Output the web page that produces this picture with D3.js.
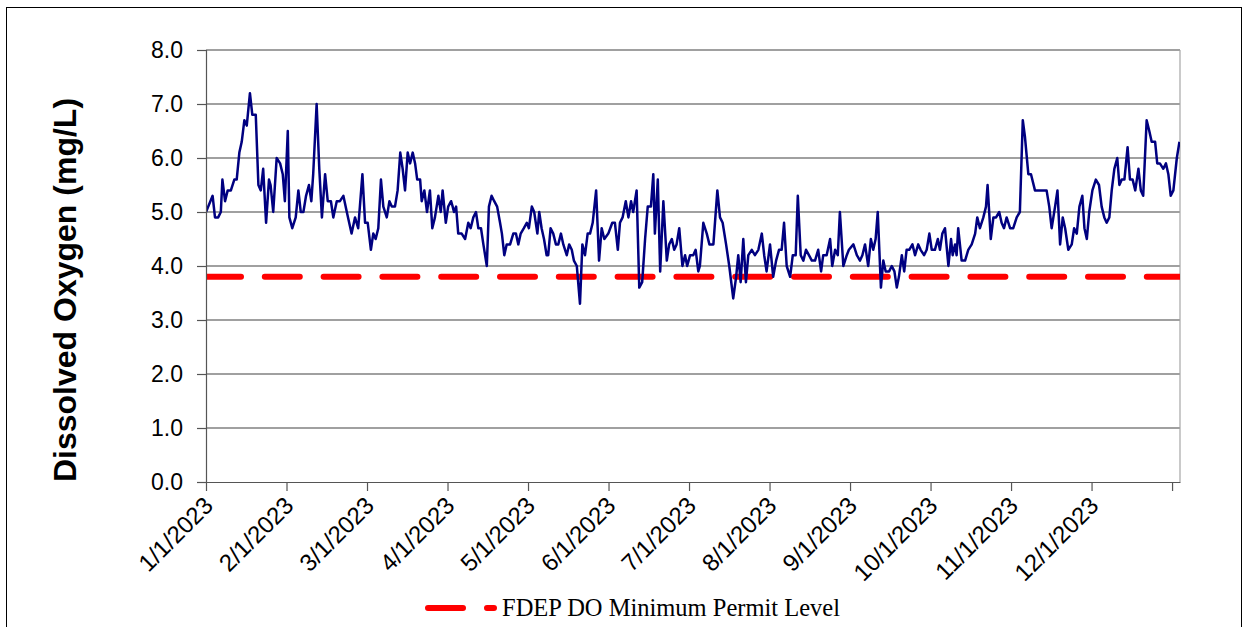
<!DOCTYPE html>
<html>
<head>
<meta charset="utf-8">
<script src="https://cdnjs.cloudflare.com/ajax/libs/d3/7.8.5/d3.min.js"></script>
<style>
    body { margin: 0; background: #fff; }
    text { font-family: Arial, "Liberation Sans", sans-serif; }
</style>
</head>
<body>
<svg id="chart" width="1249" height="627"></svg>
<script>

// x axis labels (one per month)
var monthLabels = ["1/1/2023", "2/1/2023", "3/1/2023", "4/1/2023", "5/1/2023", "6/1/2023",
    "7/1/2023", "8/1/2023", "9/1/2023", "10/1/2023", "11/1/2023", "12/1/2023"];

// y axis ticks
var yTicks = [0, 1, 2, 3, 4, 5, 6, 7, 8];

// permit level line
var permitLevel = 3.8;
var legendLabel = "FDEP DO Minimum Permit Level";

// day offset from 1/1/2023 of each reading
var obsDay = [0, 2.5, 3.4, 4.6, 5.6, 6.2, 7.2, 8.2, 9.4, 10.7, 11.6, 12.6, 13.5, 14.5, 15.4, 16.6, 17.5, 18.8, 19.8, 20.7,
    21.6, 22.7, 23.8, 24.4, 25.4, 26.7, 28.0, 29.0, 29.8, 30.9, 31.5, 32.6, 33.9, 34.9, 35.8, 36.8, 37.8, 38.9, 39.8, 40.5,
    41.8, 42.8, 43.8, 45.0, 46.0, 47.2, 48.1, 49.4, 50.6, 51.9, 53.2, 55.0, 56.3, 57.5, 59.1, 60.1, 61.1, 62.3, 63.2, 64.1,
    65.1, 66.1, 67.0, 68.3, 69.3, 70.2, 71.4, 72.4, 73.4, 74.3, 75.2, 76.2, 77.1, 78.1, 79.0, 79.8, 80.9, 81.5, 82.5, 83.5,
    84.6, 85.5, 86.5, 87.8, 88.7, 89.4, 90.6, 91.5, 92.6, 93.2, 93.7, 94.5, 95.3, 96.6, 97.9, 99.1, 100.0, 101.0, 102.0, 102.9,
    103.9, 104.8, 106.1, 106.9, 107.9, 108.9, 110.0, 111.1, 111.8, 112.7, 113.6, 114.9, 116.1, 117.1, 118.0, 118.9, 120.1, 121.2, 122.0, 123.1,
    124.0, 125.2, 125.9, 126.8, 127.7, 128.7, 129.3, 130.2, 131.2, 132.2, 133.1, 134.1, 135.0, 136.3, 137.2, 138.2, 139.0, 140.1, 141.3, 142.2,
    143.2, 144.2, 145.1, 146.1, 147.4, 148.5, 149.5, 150.5, 152.0, 153.5, 154.5, 155.6, 156.4, 157.4, 158.6, 159.6, 160.6, 161.4, 162.7, 163.7,
    164.8, 165.9, 166.9, 168.1, 169.0, 169.6, 170.7, 171.6, 172.8, 174.1, 175.0, 176.0, 176.9, 177.8, 178.8, 180.0, 181.0, 181.8, 182.9, 184.1,
    185.0, 186.0, 186.6, 187.9, 189.2, 190.2, 191.7, 193.2, 194.2, 195.2, 196.5, 197.7, 199.2, 200.3, 201.1, 202.0, 203.0, 204.0, 204.9, 206.2,
    207.4, 208.7, 210.0, 210.9, 211.8, 213.1, 214.3, 215.4, 216.5, 217.5, 218.4, 219.4, 220.7, 221.7, 222.8, 223.6, 224.7, 225.7, 226.7, 227.8,
    228.9, 230.1, 231.3, 232.4, 233.2, 234.5, 235.8, 236.6, 237.7, 238.7, 239.5, 240.8, 242.1, 242.9, 244.6, 245.9, 247.1, 248.0, 249.0, 250.2,
    251.2, 252.1, 253.0, 253.8, 255.0, 255.9, 256.8, 258.1, 259.1, 260.1, 261.0, 261.8, 262.9, 263.8, 264.7, 265.7, 266.9, 267.9, 269.1, 270.0,
    271.3, 272.3, 273.3, 274.2, 275.4, 276.5, 277.3, 278.2, 279.2, 280.5, 281.5, 282.1, 283.0, 283.6, 284.2, 285.5, 286.8, 288.0, 289.3, 290.6,
    291.4, 292.4, 293.7, 294.7, 295.3, 296.5, 297.5, 298.5, 299.7, 300.6, 301.5, 302.5, 303.8, 305.0, 306.3, 307.5, 308.6, 309.4, 310.7, 311.7,
    313.2, 314.5, 316.4, 317.6, 318.6, 319.5, 320.8, 321.7, 322.7, 323.7, 324.6, 325.8, 327.1, 328.0, 329.0, 330.0, 331.1, 331.9, 332.8, 333.7,
    334.9, 336.2, 337.4, 338.4, 339.4, 340.3, 341.3, 342.2, 343.2, 344.3, 345.1, 346.0, 347.0, 348.2, 349.1, 350.1, 351.1, 352.3, 353.2, 354.1,
    355.4, 356.4, 357.3, 358.6, 359.4, 360.4, 361.7, 362.7, 363.6, 364.5, 365.5, 366.8, 367.8];

// dissolved oxygen reading (mg/L)
var obsDO = [5.0, 5.3, 4.9, 4.9, 5.0, 5.6, 5.2, 5.4, 5.4, 5.6, 5.6, 6.1, 6.3, 6.7, 6.6, 7.2, 6.8, 6.8, 5.5, 5.4,
    5.8, 4.8, 5.6, 5.5, 5.0, 6.0, 5.9, 5.7, 5.2, 6.5, 4.9, 4.7, 4.9, 5.4, 5.0, 5.0, 5.3, 5.5, 5.2, 5.7,
    7.0, 5.8, 4.9, 5.7, 5.2, 5.2, 4.9, 5.2, 5.2, 5.3, 5.0, 4.6, 4.9, 4.7, 5.7, 4.8, 4.8, 4.3, 4.6, 4.5,
    4.7, 5.6, 5.1, 4.9, 5.2, 5.1, 5.1, 5.4, 6.1, 5.8, 5.4, 6.1, 5.9, 6.1, 5.9, 5.6, 5.6, 5.2, 5.4, 5.0,
    5.4, 4.7, 4.9, 5.3, 5.0, 5.4, 4.8, 5.1, 5.2, 5.1, 5.0, 5.1, 4.6, 4.6, 4.5, 4.8, 4.7, 4.9, 5.0, 4.7,
    4.7, 4.4, 4.0, 5.1, 5.3, 5.2, 5.1, 4.8, 4.6, 4.2, 4.4, 4.4, 4.6, 4.6, 4.4, 4.6, 4.7, 4.8, 4.7, 5.1,
    5.0, 4.6, 5.0, 4.7, 4.5, 4.2, 4.2, 4.7, 4.6, 4.4, 4.4, 4.6, 4.4, 4.2, 4.4, 4.3, 4.1, 4.0, 3.3, 4.4,
    4.2, 4.6, 4.6, 4.8, 5.4, 4.1, 4.7, 4.5, 4.6, 4.8, 4.8, 4.3, 4.8, 4.9, 5.2, 4.9, 5.2, 5.0, 5.4, 3.6,
    3.7, 4.5, 5.1, 5.1, 5.7, 4.6, 5.6, 3.9, 5.2, 4.1, 4.4, 4.5, 4.3, 4.4, 4.7, 4.0, 4.2, 4.0, 4.2, 4.2,
    4.3, 3.9, 4.0, 4.8, 4.6, 4.4, 4.4, 5.4, 4.9, 4.8, 4.4, 4.0, 3.4, 3.8, 4.2, 3.7, 4.5, 3.7, 4.2, 4.3,
    4.2, 4.3, 4.6, 4.2, 3.9, 4.4, 3.8, 4.1, 4.3, 4.3, 4.8, 4.0, 3.8, 4.2, 4.2, 5.3, 4.2, 4.1, 4.3, 4.2,
    4.1, 4.1, 4.3, 3.9, 4.2, 4.2, 4.5, 4.0, 4.3, 4.2, 5.0, 4.0, 4.2, 4.3, 4.4, 4.2, 4.1, 4.2, 4.4, 4.0,
    4.5, 4.3, 4.5, 5.0, 3.6, 4.1, 3.9, 3.9, 4.0, 3.9, 3.6, 3.8, 4.2, 3.9, 4.3, 4.3, 4.4, 4.2, 4.4, 4.3,
    4.2, 4.3, 4.6, 4.3, 4.3, 4.5, 4.3, 4.6, 4.7, 4.0, 4.5, 4.2, 4.4, 4.2, 4.7, 4.1, 4.1, 4.3, 4.4, 4.6,
    4.9, 4.7, 4.9, 5.1, 5.5, 4.5, 4.9, 4.9, 5.0, 4.8, 4.7, 4.9, 4.7, 4.7, 4.9, 5.0, 6.7, 6.4, 5.7, 5.7,
    5.4, 5.4, 5.4, 5.4, 5.1, 4.7, 5.1, 5.4, 4.4, 4.9, 4.7, 4.3, 4.4, 4.7, 4.6, 5.1, 5.3, 4.7, 4.5, 5.0,
    5.4, 5.6, 5.5, 5.1, 4.9, 4.8, 4.9, 5.4, 5.8, 6.0, 5.5, 5.6, 5.6, 6.2, 5.6, 5.6, 5.4, 5.8, 5.4, 5.3,
    6.7, 6.5, 6.3, 6.3, 5.9, 5.9, 5.8, 5.9, 5.7, 5.3, 5.4, 6.0, 6.3];

var svg = d3.select("#chart");

var margin = {top: 50, right: 69, bottom: 145, left: 206};
var width = +svg.attr("width") - margin.left - margin.right;
var height = +svg.attr("height") - margin.top - margin.bottom;

// outer chart border
svg.append("rect")
    .attr("x", 6.5)
    .attr("y", 7.5)
    .attr("width", 1235)
    .attr("height", 640)
    .style("fill", "none")
    .style("stroke", "#000")
    .style("stroke-width", 1);

var g = svg.append("g")
    .attr("transform", "translate(" + margin.left + "," + margin.top + ")");

var x = d3.scaleLinear()
    .domain([0, 368])
    .range([0, width]);

var y = d3.scaleLinear()
    .domain([0, 8])
    .range([height, 0]);

// month ticks are evenly spaced in this chart
var monthTicks = d3.range(13).map(function(k) { return k * 365 / 12; });

g.append("defs").append("clipPath")
    .attr("id", "plot-clip")
    .append("rect")
    .attr("width", width)
    .attr("height", height);

// gridlines
g.selectAll("line.grid")
    .data(yTicks.slice(1))
    .enter().append("line")
    .attr("class", "grid")
    .attr("x1", 0)
    .attr("x2", width)
    .attr("y1", function(d) { return y(d); })
    .attr("y2", function(d) { return y(d); })
    .style("stroke", "#808080")
    .style("stroke-width", 1.5);

// right edge of plot area
g.append("line")
    .attr("x1", width)
    .attr("x2", width)
    .attr("y1", 0)
    .attr("y2", height)
    .style("stroke", "#a6a6a6")
    .style("stroke-width", 1.2);

// permit level
g.append("line")
    .attr("clip-path", "url(#plot-clip)")
    .attr("x1", x(0))
    .attr("x2", x(368))
    .attr("y1", y(permitLevel))
    .attr("y2", y(permitLevel))
    .style("stroke", "#ff0000")
    .style("stroke-width", 6)
    .style("stroke-linecap", "round")
    .style("stroke-dasharray", "35,23.8");

// DO series
var line = d3.line()
    .x(function(d, i) { return x(obsDay[i]); })
    .y(function(d) { return y(d); });

g.append("path")
    .datum(obsDO)
    .attr("clip-path", "url(#plot-clip)")
    .attr("d", line)
    .style("fill", "none")
    .style("stroke", "#000080")
    .style("stroke-width", 2.5)
    .style("stroke-linejoin", "round");

// y axis
var yAxis = g.append("g")
    .call(d3.axisLeft(y)
        .tickValues(yTicks)
        .tickSize(9)
        .tickPadding(14)
        .tickFormat(d3.format(".1f")));

yAxis.select(".domain").style("stroke", "#555").style("stroke-width", 1.2);
yAxis.selectAll(".tick line").style("stroke", "#555").style("stroke-width", 1.2);
yAxis.selectAll("text")
    .style("font-size", "23px")
    .style("fill", "#000");

// x axis
var xAxis = g.append("g")
    .attr("transform", "translate(0," + height + ")")
    .call(d3.axisBottom(x)
        .tickValues(monthTicks)
        .tickSize(9)
        .tickSizeOuter(0)
        .tickFormat(function(d, i) { return monthLabels[i] || ""; }));

xAxis.select(".domain").style("stroke", "#555").style("stroke-width", 1.2);
xAxis.selectAll(".tick line").style("stroke", "#555").style("stroke-width", 1.2);
xAxis.selectAll("text")
    .attr("x", 0)
    .attr("y", 0)
    .attr("dy", 0)
    .attr("text-anchor", "end")
    .attr("transform", "translate(8,25) rotate(-45)")
    .style("font-size", "24px")
    .style("fill", "#000");

// y axis title
svg.append("text")
    .attr("transform", "translate(76," + (margin.top + height / 2 + 24) + ") rotate(-90)")
    .attr("text-anchor", "middle")
    .style("font-size", "32px")
    .style("font-weight", "bold")
    .text("Dissolved Oxygen (mg/L)");

// legend
var legend = svg.append("g")
    .attr("transform", "translate(428,608)");

legend.append("line")
    .attr("x1", 0)
    .attr("x2", 66)
    .style("stroke", "#ff0000")
    .style("stroke-width", 6)
    .style("stroke-linecap", "round")
    .style("stroke-dasharray", "35,24");

legend.append("text")
    .attr("x", 74)
    .attr("y", 8)
    .style("font-family", "'Liberation Serif', 'Times New Roman', serif")
    .style("font-size", "24.5px")
    .text(legendLabel);

</script>
</body>
</html>
